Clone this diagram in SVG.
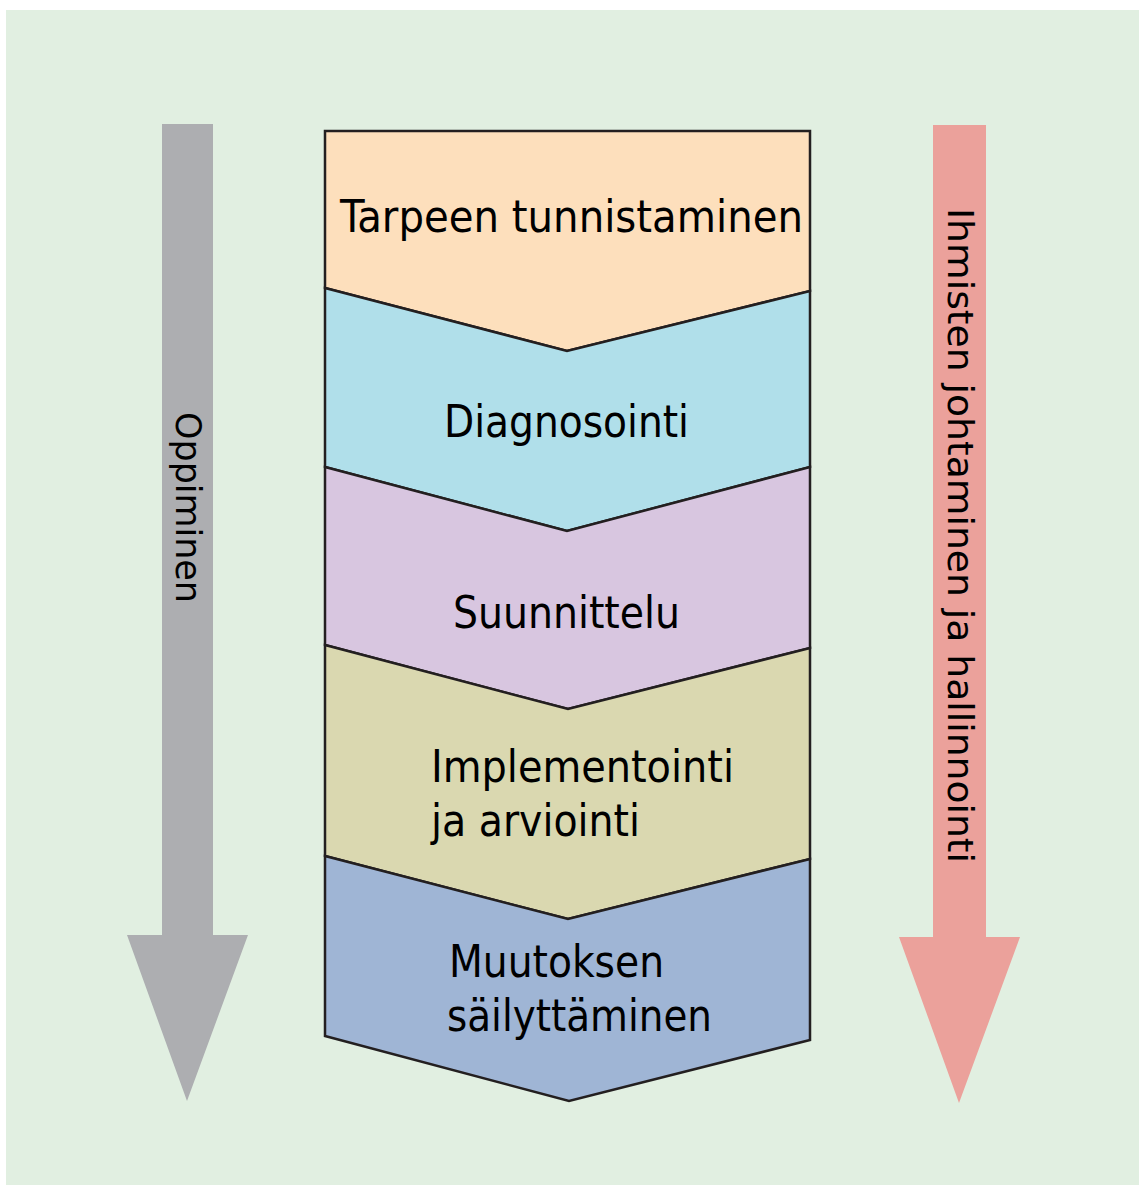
<svg xmlns="http://www.w3.org/2000/svg" width="1139" height="1185" viewBox="0 0 1139 1185">
  <style>
    .seg { stroke: #231F20; stroke-width: 2.5; stroke-linejoin: miter; }
    .lbl { font-family: "DejaVu Sans Condensed", "DejaVu Sans", sans-serif; font-size: 45px; fill: #000; }
    .side { font-family: "DejaVu Sans", sans-serif; font-size: 35px; fill: #000; }
  </style>
  <rect x="0" y="0" width="1139" height="1185" fill="#FFFFFF"/>
  <rect x="6" y="10" width="1133" height="1175" fill="#E1EFE1"/>

  <g id="connectors">
    <g id="arrow-oppiminen">
      <polygon points="162,124 213,124 213,935 248,935 187,1101 127,935 162,935" fill="#ADAEB1"/>
      <text class="side" transform="translate(176,412) rotate(90)" x="0" y="0" textLength="191" lengthAdjust="spacingAndGlyphs">Oppiminen</text>
    </g>
    <g id="arrow-johtaminen">
      <polygon points="933,125 986,125 986,937 1020,937 959,1103 899,937 933,937" fill="#EBA19B"/>
      <text class="side" transform="translate(948,208) rotate(90)" x="0" y="0" textLength="655" lengthAdjust="spacingAndGlyphs">Ihmisten johtaminen ja hallinnointi</text>
    </g>
  </g>

  <g id="step1">
    <path class="seg" fill="#FDDFBC" d="M325,131 L810,131 L810,291 L567,351 L325,288 Z"/>
    <text class="lbl" x="340" y="232" textLength="463" lengthAdjust="spacingAndGlyphs">Tarpeen tunnistaminen</text>
  </g>
  <g id="step2">
    <path class="seg" fill="#B0DFEA" d="M325,288 L567,351 L810,291 L810,467 L567,531 L325,467 Z"/>
    <text class="lbl" x="444" y="437" textLength="245" lengthAdjust="spacingAndGlyphs">Diagnosointi</text>
  </g>
  <g id="step3">
    <path class="seg" fill="#D8C6E0" d="M325,467 L567,531 L810,467 L810,648 L568,709 L325,645 Z"/>
    <text class="lbl" x="453" y="628" textLength="227" lengthAdjust="spacingAndGlyphs">Suunnittelu</text>
  </g>
  <g id="step4">
    <path class="seg" fill="#DAD8B0" d="M325,645 L568,709 L810,648 L810,859 L568,919 L325,856 Z"/>
    <text class="lbl" x="431" y="782" textLength="303" lengthAdjust="spacingAndGlyphs">Implementointi</text>
    <text class="lbl" x="431" y="836" textLength="209" lengthAdjust="spacingAndGlyphs">ja arviointi</text>
  </g>
  <g id="step5">
    <path class="seg" fill="#9FB5D5" d="M325,856 L568,919 L810,859 L810,1040 L569,1101 L325,1036 Z"/>
    <text class="lbl" x="449" y="977" textLength="215" lengthAdjust="spacingAndGlyphs">Muutoksen</text>
    <text class="lbl" x="447" y="1031" textLength="265" lengthAdjust="spacingAndGlyphs">säilyttäminen</text>
  </g>
</svg>
